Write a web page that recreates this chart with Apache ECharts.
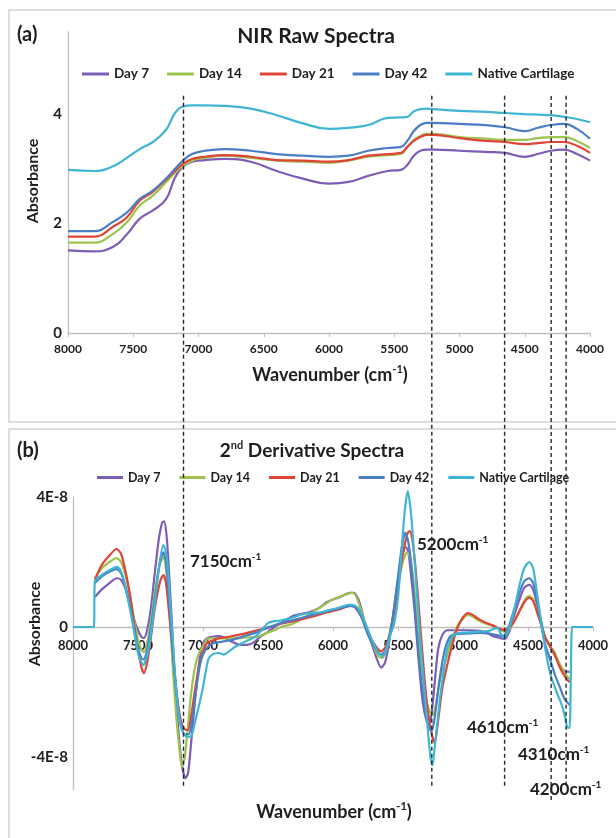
<!DOCTYPE html>
<html><head><meta charset="utf-8">
<script src="https://cdn.jsdelivr.net/npm/echarts@6/dist/echarts.min.js"></script>
<style>html,body{margin:0;padding:0;background:#fff}#c{width:616px;height:838px}</style>
</head><body><div id="c"></div>
<script>
// ---------- DATA ----------
const seriesNames = ['Day 7', 'Day 14', 'Day 21', 'Day 42', 'Native Cartilage'];
const seriesColors = ['#7d5db5', '#9dc34f', '#df4436', '#4a7fc5', '#3fb5d3'];
const xTickValues = [8000, 7500, 7000, 6500, 6000, 5500, 5000, 4500, 4000];
const rawYTicks = [0, 2, 4];
const derivYTicks = [-4, 0, 4]; // in units of 1E-8

// (a) NIR raw spectra
const rawWavenumbers = [8000, 7800, 7650, 7550, 7450, 7350, 7250, 7180, 7120, 7050, 6950, 6800, 6600, 6400, 6200, 6000, 5850, 5700, 5550, 5450, 5400, 5350, 5300, 5250, 5200, 5000, 4800, 4650, 4500, 4400, 4300, 4200, 4100, 4000];
const rawDay7   = [1.51,1.49,1.58,1.80,2.09,2.24,2.44,2.84,3.04,3.13,3.16,3.18,3.13,2.96,2.82,2.73,2.76,2.87,2.96,2.98,3.07,3.24,3.33,3.35,3.35,3.33,3.31,3.29,3.22,3.27,3.33,3.35,3.27,3.15];
const rawDay14  = [1.65,1.65,1.82,2.02,2.33,2.51,2.75,2.93,3.05,3.15,3.20,3.24,3.20,3.15,3.13,3.11,3.15,3.22,3.25,3.27,3.40,3.53,3.60,3.64,3.64,3.58,3.55,3.53,3.53,3.56,3.58,3.58,3.51,3.38];
const rawDay21  = [1.76,1.76,1.95,2.11,2.42,2.58,2.80,2.96,3.09,3.18,3.22,3.25,3.22,3.16,3.15,3.13,3.16,3.24,3.27,3.29,3.40,3.51,3.58,3.62,3.62,3.56,3.51,3.49,3.45,3.47,3.49,3.49,3.42,3.29];
const rawDay42  = [1.86,1.86,2.04,2.20,2.45,2.60,2.82,3.00,3.15,3.27,3.33,3.36,3.33,3.27,3.24,3.22,3.24,3.33,3.38,3.40,3.51,3.69,3.80,3.84,3.84,3.82,3.80,3.76,3.69,3.75,3.80,3.82,3.73,3.55];
const rawNative = [2.98,2.96,3.05,3.20,3.36,3.49,3.71,4.02,4.14,4.16,4.16,4.15,4.10,3.98,3.83,3.73,3.75,3.80,3.93,3.94,3.95,4.05,4.09,4.10,4.09,4.06,4.04,4.02,4.00,3.99,3.98,3.95,3.91,3.85];

// (b) 2nd derivative spectra: [wavenumber, value x 1E-8]
const derivDay7 = [[7832,0.92],[7780,1.15],[7720,1.35],[7665,1.5],[7630,1.45],[7590,1.1],[7550,0.5],[7510,0.0],[7475,-0.3],[7455,-0.34],[7430,-0.1],[7400,0.6],[7370,1.7],[7340,2.7],[7315,3.2],[7300,3.25],[7280,2.8],[7260,1.6],[7235,-0.2],[7210,-2.0],[7185,-3.4],[7160,-4.3],[7135,-4.65],[7115,-4.5],[7090,-3.5],[7060,-2.2],[7030,-1.1],[7000,-0.5],[6970,-0.35],[6930,-0.3],[6880,-0.28],[6846,-0.31],[6780,-0.45],[6715,-0.55],[6660,-0.55],[6615,-0.49],[6560,-0.3],[6500,-0.15],[6450,0.0],[6400,0.12],[6300,0.35],[6177,0.46],[6100,0.6],[6046,0.77],[5946,0.92],[5870,1.05],[5840,1.05],[5800,0.8],[5760,0.2],[5720,-0.3],[5670,-0.9],[5630,-1.25],[5600,-1.1],[5570,-0.5],[5540,0.3],[5510,1.2],[5480,2.0],[5455,2.4],[5440,2.46],[5420,2.3],[5400,1.6],[5370,0.4],[5340,-1.1],[5310,-2.3],[5280,-2.9],[5262,-3.0],[5240,-2.6],[5215,-1.6],[5192,-0.7],[5160,-0.25],[5123,-0.1],[5050,-0.1],[4950,-0.1],[4869,-0.12],[4820,-0.18],[4769,-0.28],[4720,-0.33],[4677,-0.37],[4640,-0.1],[4610,0.3],[4570,0.8],[4530,1.2],[4490,1.3],[4460,1.15],[4430,0.7],[4400,0.2],[4370,-0.3],[4330,-0.6],[4290,-0.9],[4250,-1.2],[4220,-1.35],[4180,-1.38]];
const derivDay14 = [[7832,1.5],[7780,1.8],[7720,2.0],[7665,2.12],[7630,2.0],[7590,1.5],[7550,0.7],[7510,-0.2],[7475,-0.7],[7455,-0.77],[7430,-0.5],[7400,0.2],[7370,1.1],[7335,1.9],[7305,2.15],[7280,1.6],[7255,0.3],[7230,-1.4],[7205,-2.8],[7180,-3.8],[7162,-4.3],[7140,-4.0],[7115,-3.0],[7090,-2.0],[7060,-1.2],[7030,-0.8],[7000,-0.6],[6970,-0.38],[6930,-0.35],[6850,-0.35],[6750,-0.35],[6650,-0.32],[6580,-0.3],[6520,-0.2],[6450,-0.1],[6400,0.0],[6308,0.1],[6200,0.35],[6100,0.6],[6000,0.85],[5900,1.0],[5860,1.05],[5830,1.0],[5790,0.6],[5750,0.05],[5700,-0.5],[5650,-0.9],[5620,-0.95],[5590,-0.7],[5560,-0.2],[5530,0.5],[5500,1.2],[5470,1.9],[5440,2.25],[5425,2.3],[5400,2.0],[5370,1.0],[5340,-0.3],[5310,-1.5],[5280,-2.3],[5250,-2.65],[5232,-2.7],[5210,-2.4],[5170,-1.5],[5123,-0.9],[5080,-0.35],[5040,0.05],[5000,0.25],[4962,0.37],[4930,0.33],[4880,0.2],[4820,0.1],[4770,0.03],[4720,-0.08],[4670,-0.15],[4640,-0.05],[4610,0.15],[4570,0.45],[4530,0.8],[4490,0.95],[4460,0.85],[4430,0.5],[4400,0.1],[4370,-0.3],[4330,-0.6],[4300,-0.75],[4260,-1.1],[4220,-1.4],[4180,-1.6]];
const derivDay21 = [[7832,1.45],[7780,1.9],[7720,2.2],[7665,2.4],[7630,2.25],[7590,1.6],[7550,0.7],[7510,-0.5],[7470,-1.3],[7455,-1.42],[7430,-1.1],[7400,-0.3],[7370,0.6],[7330,1.4],[7305,1.6],[7285,1.35],[7260,0.4],[7230,-0.9],[7200,-2.1],[7170,-2.9],[7140,-3.15],[7115,-3.17],[7090,-2.7],[7060,-1.9],[7030,-1.2],[7000,-0.77],[6970,-0.5],[6930,-0.42],[6880,-0.35],[6800,-0.3],[6700,-0.22],[6600,-0.12],[6500,-0.02],[6400,0.1],[6300,0.18],[6177,0.3],[6046,0.45],[5946,0.55],[5870,0.65],[5830,0.6],[5780,0.3],[5730,-0.2],[5670,-0.6],[5630,-0.75],[5600,-0.65],[5570,-0.3],[5540,0.2],[5510,0.9],[5480,1.8],[5450,2.5],[5425,2.9],[5408,2.95],[5390,2.7],[5360,1.6],[5330,0.1],[5300,-1.4],[5270,-2.6],[5240,-3.3],[5218,-3.57],[5195,-3.0],[5160,-1.9],[5123,-1.2],[5080,-0.5],[5040,0.0],[5000,0.3],[4962,0.43],[4930,0.38],[4880,0.25],[4820,0.12],[4770,0.05],[4720,-0.05],[4680,-0.09],[4640,0.0],[4610,0.15],[4570,0.45],[4530,0.75],[4490,0.9],[4460,0.8],[4430,0.45],[4400,0.1],[4370,-0.3],[4330,-0.6],[4300,-0.8],[4260,-1.2],[4220,-1.5],[4180,-1.7]];
const derivDay42 = [[7832,1.35],[7780,1.55],[7720,1.7],[7665,1.78],[7630,1.65],[7590,1.15],[7550,0.4],[7510,-0.5],[7475,-0.95],[7458,-1.0],[7430,-0.7],[7400,0.0],[7370,0.9],[7335,1.9],[7305,2.3],[7285,2.0],[7260,0.8],[7230,-0.9],[7200,-2.2],[7170,-3.0],[7140,-3.3],[7110,-3.3],[7085,-2.9],[7055,-2.0],[7025,-1.2],[7000,-0.85],[6960,-0.6],[6920,-0.5],[6850,-0.45],[6780,-0.4],[6700,-0.3],[6600,-0.18],[6500,-0.02],[6400,0.12],[6300,0.22],[6177,0.35],[6046,0.48],[5946,0.58],[5870,0.65],[5830,0.62],[5780,0.3],[5730,-0.25],[5670,-0.7],[5630,-0.85],[5600,-0.75],[5570,-0.35],[5540,0.3],[5510,1.2],[5480,2.2],[5460,2.7],[5446,2.9],[5425,2.7],[5400,2.0],[5370,0.6],[5340,-0.9],[5310,-2.0],[5280,-2.8],[5255,-3.15],[5240,-3.2],[5215,-2.7],[5180,-1.6],[5140,-0.7],[5100,-0.3],[5050,-0.22],[4950,-0.2],[4869,-0.18],[4800,-0.2],[4740,-0.25],[4700,-0.28],[4670,-0.2],[4640,0.1],[4610,0.5],[4570,1.0],[4530,1.4],[4490,1.5],[4460,1.35],[4430,0.8],[4400,0.1],[4370,-0.5],[4330,-1.0],[4290,-1.5],[4250,-1.9],[4220,-2.2],[4180,-2.4]];
const derivNative = [[8000,0],[7840,0],[7832,1.4],[7780,1.6],[7720,1.75],[7660,1.85],[7620,1.6],[7580,0.9],[7540,0.1],[7500,-0.8],[7460,-1.17],[7420,-0.7],[7380,0.4],[7340,1.8],[7305,2.52],[7280,2.2],[7250,0.6],[7220,-1.2],[7190,-2.6],[7160,-3.2],[7120,-3.38],[7090,-3.35],[7060,-2.9],[7030,-2.4],[7000,-1.85],[6960,-1.0],[6930,-0.85],[6880,-0.8],[6840,-0.85],[6800,-0.75],[6750,-0.6],[6700,-0.5],[6650,-0.4],[6600,-0.3],[6550,-0.1],[6500,0.12],[6450,0.18],[6400,0.2],[6350,0.25],[6300,0.3],[6250,0.38],[6177,0.43],[6100,0.45],[6050,0.5],[5950,0.6],[5880,0.68],[5850,0.68],[5800,0.55],[5750,0.1],[5700,-0.4],[5650,-0.8],[5620,-0.9],[5590,-0.7],[5560,-0.25],[5530,0.1],[5500,0.9],[5475,2.2],[5450,3.5],[5425,4.18],[5400,3.5],[5375,2.2],[5350,0.8],[5330,-0.3],[5300,-1.8],[5270,-3.2],[5250,-4.0],[5235,-4.25],[5215,-3.6],[5180,-2.3],[5150,-1.4],[5123,-0.7],[5090,-0.35],[5060,-0.22],[5000,-0.18],[4900,-0.15],[4800,-0.12],[4760,-0.05],[4735,-0.02],[4710,-0.2],[4680,-0.34],[4650,-0.1],[4610,0.45],[4570,1.2],[4530,1.8],[4490,2.0],[4460,1.8],[4430,1.0],[4400,0.2],[4370,-0.6],[4330,-1.42],[4280,-2.0],[4240,-2.4],[4215,-2.77],[4195,-3.1],[4180,-3.1],[4162,0],[4150,0],[4000,0]];

// guide lines (positions as drawn in the figure) and their labels
const guideWavenumbers = [7150, 5240, 4680, 4322, 4207];
const guideLow = [0.02, 0.02, 0.02, 0.0, 0.02];
const guideLabels = ['7150', '5200', '4610', '4310', '4200'];

// ---------- CHART ----------
const FONT = 'Lato, "Open Sans", sans-serif';
const TXT = '#1e1e1e';
const AX = '#bfbfbf';
const chart = echarts.init(document.getElementById('c'), null, {renderer: 'canvas'});

const rawSets = [rawDay7, rawDay14, rawDay21, rawDay42, rawNative];
const derivSets = [derivDay7, derivDay14, derivDay21, derivDay42, derivNative];
const series = [];
rawSets.forEach((vals, i) => {
  series.push({
    name: seriesNames[i], type: 'line', xAxisIndex: 0, yAxisIndex: 0,
    data: rawWavenumbers.map((w, j) => [w, vals[j]]),
    symbol: 'none', smooth: 0.45,
    lineStyle: {width: 2.2, color: seriesColors[i]}, itemStyle: {color: seriesColors[i]},
    z: 2 + i
  });
});
derivSets.forEach((pts, i) => {
  series.push({
    name: seriesNames[i], type: 'line', xAxisIndex: 1, yAxisIndex: 1,
    data: pts, symbol: 'none', smooth: 0.25, clip: false,
    lineStyle: {width: 2.2, color: seriesColors[i]}, itemStyle: {color: seriesColors[i]},
    z: 2 + i
  });
});
guideWavenumbers.forEach((w, k) => {
  series.push({
    name: 'guide' + k, type: 'line', xAxisIndex: 2, yAxisIndex: 2,
    data: [[w, guideLow[k]], [w, 1]], symbol: 'none', silent: true,
    lineStyle: {color: '#262626', width: 1.4, type: [4, 3]}, z: 20
  });
});

const supText = (main, sup, tail, size) => ({
  text: '{m|' + main + '}{s|' + sup + '}' + (tail ? '{m|' + tail + '}' : ''),
  rich: {
    m: {fontSize: size, fontFamily: FONT, fontWeight: 'bold', fill: TXT, lineHeight: size + 4, verticalAlign: 'middle'},
    s: {fontSize: Math.round(size * 0.6), fontFamily: FONT, fontWeight: 'bold', fill: TXT, lineHeight: Math.round(size * 0.6), verticalAlign: 'top'}
  }
});

const graphic = [
  {type: 'rect', shape: {x: 9, y: 10, width: 640, height: 412}, style: {fill: 'none', stroke: '#d3d3d3', lineWidth: 1.5}, z: 0},
  {type: 'rect', shape: {x: 9, y: 429, width: 640, height: 450}, style: {fill: 'none', stroke: '#d3d3d3', lineWidth: 1.5}, z: 0},
  {type: 'text', x: 17, y: 35, style: {text: '(a)', font: 'bold 20px ' + FONT, fill: TXT, align: 'left', verticalAlign: 'middle'}},
  {type: 'text', x: 316, y: 36, style: {text: 'NIR Raw Spectra', font: 'bold 21px ' + FONT, fill: TXT, align: 'center', verticalAlign: 'middle'}},
  {type: 'text', x: 33, y: 181, rotation: Math.PI / 2, style: {text: 'Absorbance', font: 'bold 16px ' + FONT, fill: TXT, align: 'center', verticalAlign: 'middle'}},
  {type: 'text', x: 330, y: 375, style: Object.assign(supText('Wavenumber (cm', '-1', ')', 18), {align: 'center', verticalAlign: 'middle'})},
  {type: 'text', x: 17, y: 451, style: {text: '(b)', font: 'bold 20px ' + FONT, fill: TXT, align: 'left', verticalAlign: 'middle'}},
  {type: 'text', x: 312, y: 451, style: Object.assign(supText('2', 'nd', ' Derivative Spectra', 19), {align: 'center', verticalAlign: 'middle'})},
  {type: 'text', x: 35, y: 624, rotation: Math.PI / 2, style: {text: 'Absorbance', font: 'bold 16px ' + FONT, fill: TXT, align: 'center', verticalAlign: 'middle'}},
  {type: 'text', x: 334, y: 812, style: Object.assign(supText('Wavenumber (cm', '-1', ')', 18), {align: 'center', verticalAlign: 'middle'})}
];
const annoPos = [[190, 562], [417, 545], [467, 728], [518, 755], [530, 790]];
guideLabels.forEach((t, k) => {
  graphic.push({type: 'text', x: annoPos[k][0], y: annoPos[k][1], z: 30,
    style: Object.assign(supText(t + 'cm', '-1', '', 17), {align: 'left', verticalAlign: 'middle'})});
});

const axisLabelStyle = (size, margin) => ({fontFamily: FONT, fontWeight: 'bold', fontSize: size, color: TXT, margin: margin});
const plainNum = v => String(v);

chart.setOption({
  animation: false,
  backgroundColor: '#ffffff',
  grid: [
    {left: 68, right: 26, top: 32, bottom: 505},
    {left: 73, right: 23, top: 497, bottom: 48.5},
    {left: 73, right: 23, top: 93, bottom: 38}
  ],
  legend: [
    {data: seriesNames, left: 77, top: 62, icon: 'rect', itemWidth: 27, itemHeight: 3, itemGap: 18,
     textStyle: {fontFamily: FONT, fontWeight: 'bold', fontSize: 13.5, color: TXT}},
    {data: seriesNames, left: 92, top: 466, icon: 'rect', itemWidth: 26, itemHeight: 3, itemGap: 19,
     textStyle: {fontFamily: FONT, fontWeight: 'bold', fontSize: 12.5, color: TXT}}
  ],
  xAxis: [
    {gridIndex: 0, type: 'value', min: 4000, max: 8000, interval: 500, inverse: true,
     axisLine: {show: true, onZero: false, lineStyle: {color: AX, width: 1.3}},
     axisTick: {show: true, length: 4, lineStyle: {color: AX}},
     axisLabel: Object.assign(axisLabelStyle(12, 10), {formatter: plainNum}), splitLine: {show: false}},
    {gridIndex: 1, type: 'value', min: 4000, max: 8000, interval: 500, inverse: true,
     position: 'bottom', offset: -162.5,
     axisLine: {show: true, onZero: false, lineStyle: {color: AX, width: 1.3}},
     axisTick: {show: true, length: 4, lineStyle: {color: AX}},
     axisLabel: Object.assign(axisLabelStyle(13, 12), {formatter: plainNum}), splitLine: {show: false}},
    {gridIndex: 2, type: 'value', min: 4000, max: 8000, inverse: true, show: false}
  ],
  yAxis: [
    {gridIndex: 0, type: 'value', min: 0, max: 5.5,
     axisLine: {show: true, onZero: false, lineStyle: {color: AX, width: 1.3}},
     axisTick: {show: false}, splitLine: {show: false},
     axisLabel: Object.assign(axisLabelStyle(15, 6), {customValues: rawYTicks})},
    {gridIndex: 1, type: 'value', min: -5, max: 4,
     axisLine: {show: true, onZero: false, lineStyle: {color: AX, width: 1.3}},
     axisTick: {show: false}, splitLine: {show: false},
     axisLabel: Object.assign(axisLabelStyle(15, 5), {customValues: derivYTicks,
       formatter: v => (v === 0 ? '0' : v + 'E-8')})},
    {gridIndex: 2, type: 'value', min: 0, max: 1, show: false}
  ],
  graphic: graphic,
  series: series
});
</script>
</body></html>
